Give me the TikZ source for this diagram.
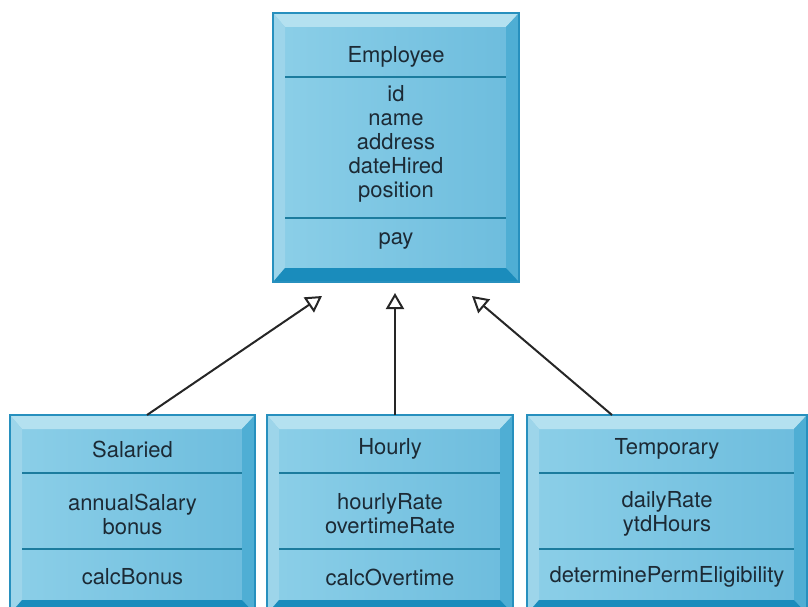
\documentclass[tikz,border=0pt]{standalone}
\usepackage{fontspec}
\setmainfont{TeX Gyre Heros}
\usetikzlibrary{positioning,arrows.meta,calc}
\definecolor{umlfaceL}{HTML}{8CCFE8}
\definecolor{umlfaceR}{HTML}{6CBCDD}
\definecolor{umltop}{HTML}{B4E1F0}
\definecolor{umlleft}{HTML}{9DD5EA}
\definecolor{umlright}{HTML}{4FAED4}
\definecolor{umlbottom}{HTML}{1A8CBC}
\definecolor{umledge}{HTML}{2790BE}
\definecolor{umlrule}{HTML}{1C7C9E}
\definecolor{umltext}{HTML}{1C2A35}
\tikzset{
    every node/.style={font=\fontsize{22}{24}\selectfont,text=umltext},
    classbox/.style={anchor=north west,inner sep=0pt,outer sep=0pt,left color=umlfaceL,right color=umlfaceR},
    classedge/.style={draw=umledge,line width=1.5pt},
    classrule/.style={draw=umlrule,line width=2pt},
    members/.style={align=center,inner sep=0pt},
    inherit/.style={draw=black!85,line width=2pt,-{Triangle[open,length=16pt,width=18pt]}}
}
\begin{document}
\begin{tikzpicture}[x=1pt,y=-1pt]
\useasboundingbox (0,0) rectangle (808,607);
\clip (0,0) rectangle (808,607);
% class boxes
\node[classbox,minimum width=246pt,minimum height=269pt] (emp) at (273,13) {};
\node[classbox,minimum width=245pt,minimum height=199pt] (sal) at (10,415) {};
\node[classbox,minimum width=246pt,minimum height=199pt] (hrl) at (267,415) {};
\node[classbox,minimum width=280pt,minimum height=199pt] (tmp) at (527,415) {};
% bevelled frames
\foreach \c in {emp,sal,hrl,tmp}{
    \fill[umltop] (\c.north west) -- (\c.north east) -- ($(\c.north east)+(-13,14)$) -- ($(\c.north west)+(12,14)$) -- cycle;
    \fill[umlleft] (\c.north west) -- ($(\c.north west)+(12,14)$) -- ($(\c.south west)+(12,-14)$) -- (\c.south west) -- cycle;
    \fill[umlright] (\c.north east) -- ($(\c.north east)+(-13,14)$) -- ($(\c.south east)+(-13,-14)$) -- (\c.south east) -- cycle;
    \fill[umlbottom] (\c.south west) -- ($(\c.south west)+(12,-14)$) -- ($(\c.south east)+(-13,-14)$) -- (\c.south east) -- cycle;
    \draw[classedge] (\c.north west) rectangle (\c.south east);
}
% compartment rules
\draw[classrule] ($(emp.north west)+(12,64)$) -- ($(emp.north east)+(-13,64)$);
\draw[classrule] ($(emp.north west)+(12,205)$) -- ($(emp.north east)+(-13,205)$);
\foreach \c in {sal,hrl,tmp}{
    \draw[classrule] ($(\c.north west)+(12,58)$) -- ($(\c.north east)+(-13,58)$);
    \draw[classrule] ($(\c.north west)+(12,134)$) -- ($(\c.north east)+(-13,134)$);
}
% Employee
\node (empName) at ($(emp.north)+(0,44)$) {Employee};
\node[members] (empAttr) at ($(emp.north)+(0,131)$) {id\\name\\address\\dateHired\\position};
\node (empOps) at ($(emp.north)+(0,228)$) {pay};
% Salaried
\node (salName) at ($(sal.north)+(0,34)$) {Salaried};
\node[members] (salAttr) at ($(sal.north)+(0,99)$) {annualSalary\\bonus};
\node (salOps) at ($(sal.north)+(0,162)$) {calcBonus};
% Hourly
\node (hrlName) at ($(hrl.north)+(0,34)$) {Hourly};
\node[members] (hrlAttr) at ($(hrl.north)+(0,99)$) {hourlyRate\\overtimeRate};
\node (hrlOps) at ($(hrl.north)+(0,162)$) {calcOvertime};
% Temporary
\node (tmpName) at ($(tmp.north)+(0,34)$) {Temporary};
\node[members] (tmpAttr) at ($(tmp.north)+(0,99)$) {dailyRate\\ytdHours};
\node (tmpOps) at ($(tmp.north)+(0,162)$) {determinePermEligibility};
% generalisation arrows
\coordinate (salTip) at (322,296);
\coordinate (hrlTip) at (395,293);
\coordinate (tmpTip) at (472,296);
\coordinate (salFoot) at (147,415);
\coordinate (hrlFoot) at (395,415);
\coordinate (tmpFoot) at (612,415);
\draw[inherit] (salFoot) -- (salTip);
\draw[inherit] (hrlFoot) -- (hrlTip);
\draw[inherit] (tmpFoot) -- (tmpTip);
\end{tikzpicture}
\end{document}
